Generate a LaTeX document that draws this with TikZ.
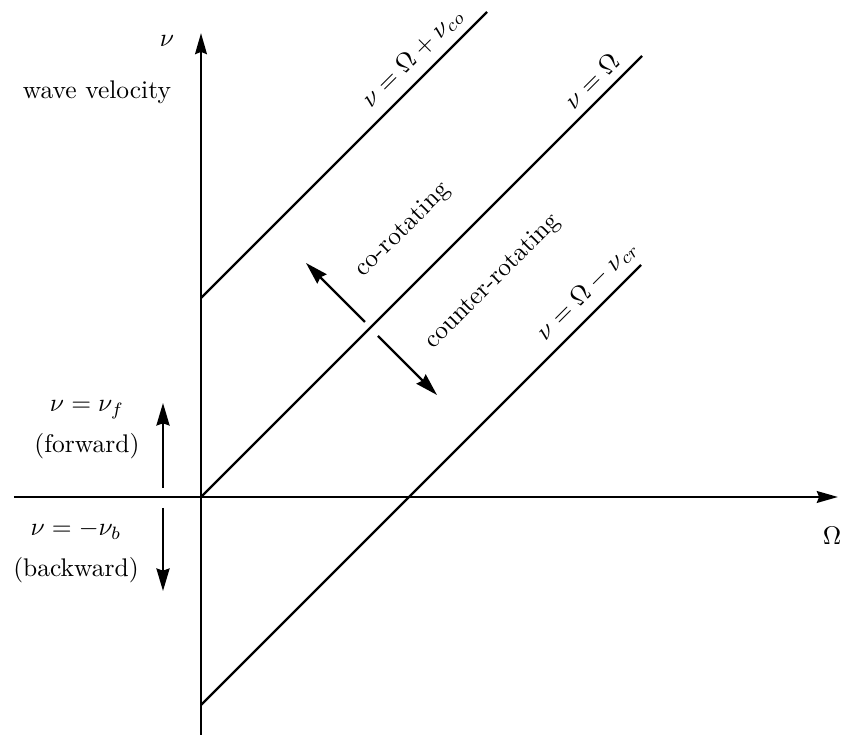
\documentclass[tikz,border=0pt]{standalone}
\usetikzlibrary{arrows.meta}

\begin{document}
\begin{tikzpicture}[
  x=1.378cm,
  y=1.378cm,
  axis/.style={
    line width=1.1pt,
    -{Stealth[length=2.9mm, width=1.6mm, inset=0.3mm]}
  },
  curve/.style={
    line width=0.9pt
  },
  arrow/.style={
    line width=0.9pt,
    -{Stealth[length=3.1mm, width=1.8mm, inset=0.3mm]}
  },
  note/.style={
    align=center
  }
]

\useasboundingbox (-2.01,-2.39) rectangle (6.41,4.97);

% ============================================================
% Axes
% ============================================================

\coordinate (O) at (0,0);
\coordinate (xleft) at (-1.87,0);
\coordinate (xright) at (6.37,0);
\coordinate (ybottom) at (0,-2.38);
\coordinate (ytop) at (0,4.64);

\draw[axis] (xleft) -- (xright);
\draw[axis] (ybottom) -- (ytop);

\node (omega) at (6.31,-0.39) {$\Omega$};
\node (nu) at (-0.34,4.56) {$\nu$};
\node[note] (wave) at (-1.04,4.05) {wave velocity};

% ============================================================
% Lines
% ============================================================

\coordinate (syncend) at (4.41,4.41);
\draw[curve] (O) -- node[pos=0.915, above, sloped] {$\nu=\Omega$} (syncend);

\coordinate (costart) at (0,1.99);
\coordinate (coend) at (2.86,4.85);
\draw[curve] (costart) -- node[pos=0.79, above, sloped] {$\nu=\Omega+\nu_{co}$} (coend);

\coordinate (crstart) at (0,-2.08);
\coordinate (crend) at (4.40,2.32);
\draw[curve] (crstart) -- node[pos=0.91, above, sloped] {$\nu=\Omega-\nu_{cr}$} (crend);

% ============================================================
% Rotation sense
% ============================================================

\coordinate (cofrom) at (1.64,1.75);
\coordinate (coto) at (1.05,2.34);
\coordinate (crfrom) at (1.77,1.61);
\coordinate (crto) at (2.36,1.02);

\draw[arrow] (cofrom) -- (coto);
\draw[arrow] (crfrom) -- (crto);

\node[rotate=45] (corot) at (2.02,2.67) {co-rotating};
\node[rotate=45] (crrot) at (2.92,2.15) {counter-rotating};

% ============================================================
% Forward and backward
% ============================================================

\coordinate (fwdfrom) at (-0.38,0.09);
\coordinate (fwdto) at (-0.38,0.94);
\coordinate (bwdfrom) at (-0.38,-0.11);
\coordinate (bwdto) at (-0.38,-0.94);

\draw[arrow] (fwdfrom) -- (fwdto);
\draw[arrow] (bwdfrom) -- (bwdto);

\node[note] (fwd) at (-1.14,0.675) {$\nu=\nu_f$\\[4pt] (forward)};
\node[note] (bwd) at (-1.25,-0.545) {$\nu=-\nu_b$\\[4pt] (backward)};

\end{tikzpicture}
\end{document}
